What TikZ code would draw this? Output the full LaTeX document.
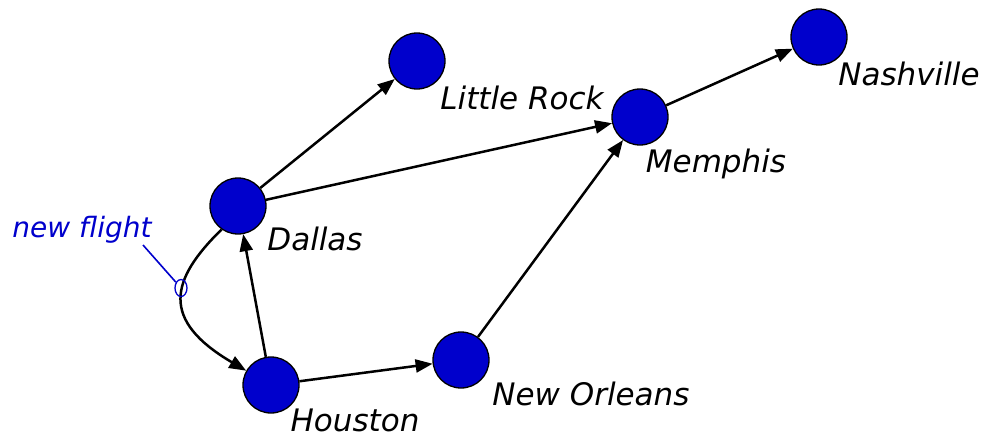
\documentclass[tikz,border=0pt]{standalone}
\usepackage{fontspec}
\setmainfont{DejaVu Sans}
\usetikzlibrary{arrows.meta,shapes.geometric}
\definecolor{cityblue}{HTML}{0000CC}
\begin{document}
\begin{tikzpicture}[x=1pt,y=-1pt,
  city/.style={circle,draw=black,line width=1.3pt,fill=cityblue,minimum size=56pt,inner sep=0pt},
  lbl/.style={font=\fontsize{31}{36}\selectfont\itshape,inner sep=0pt},
  route/.style={line width=2.5pt,-{Triangle[length=17pt,width=13pt]}}]
\useasboundingbox (0,0) rectangle (982,437);
\node[city] (lr) at (417,61) {};
\node[city] (me) at (640,117) {};
\node[city] (na) at (819,37) {};
\node[city] (da) at (238,206) {};
\node[city] (ho) at (271,385) {};
\node[city] (no) at (461,360) {};
\node[lbl] (lrl) at (522,98) {Little Rock};
\node[lbl] (mel) at (716,164) {Memphis};
\node[lbl] (nal) at (909,74) {Nashville};
\node[lbl] (dal) at (315,239) {Dallas};
\node[lbl] (hol) at (355,420) {Houston};
\node[lbl] (nol) at (591,394) {New Orleans};
\node[lbl,text=cityblue,font=\fontsize{28}{34}\selectfont\itshape] (nf) at (82,230) {new flight};
\draw[route] (da) -- (lr);
\draw[route] (da) -- (me);
\draw[route] (ho) -- (da);
\draw[route] (ho) -- (no);
\draw[route] (no) -- (me);
\draw[route] (me) -- (na);
\draw[route] (da.235) .. controls (170,280) and (160,320) .. (ho.150);
\node[draw=cityblue,ellipse,line width=1.3pt,minimum width=12pt,minimum height=17pt,inner sep=0pt] (mk) at (181,288) {};
\coordinate (nfe) at (143,245);
\draw[cityblue,line width=1.6pt] (nfe) -- (mk);
\end{tikzpicture}
\end{document}
